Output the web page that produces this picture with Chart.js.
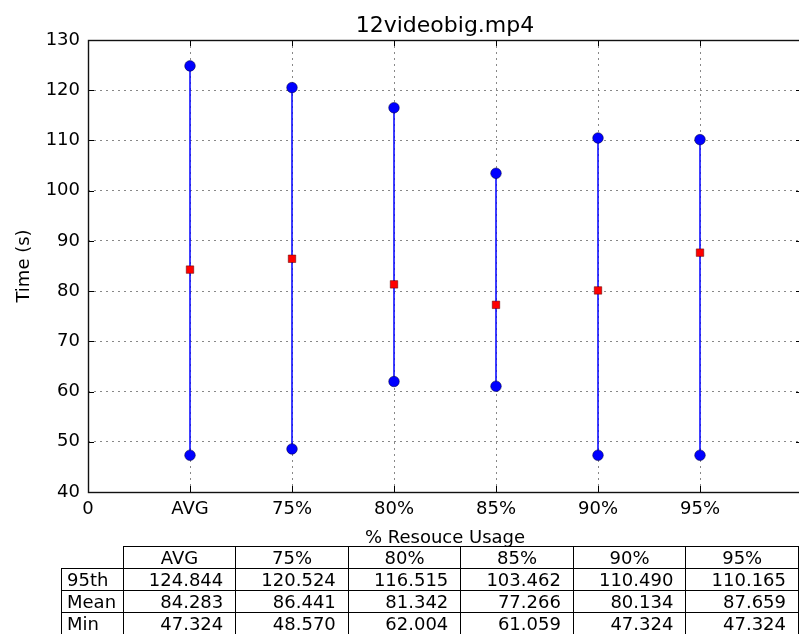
<!DOCTYPE html>
<html>
<head>
<meta charset="utf-8">
<script src="https://cdn.jsdelivr.net/npm/chart.js@4/dist/chart.umd.min.js"></script>
<style>
body { margin:0; overflow:hidden; background:#fff; }
#wrap { position:relative; width:799px; height:634px; overflow:hidden; }
canvas { position:absolute; left:0; top:0; }
#tbl { position:absolute; left:61px; top:546px; border-collapse:collapse; table-layout:fixed;
       font-family:"DejaVu Sans"; font-size:18px; color:#000; }
#tbl td { border:1px solid #000; padding:0; height:21px; line-height:21px; white-space:nowrap; overflow:hidden; }
#tbl td.blank { border:none; }
#tbl td.head { text-align:center; }
#tbl td.name { text-align:left; padding-left:5px; }
#tbl td.num { text-align:right; padding-right:12px; }
</style>
</head>
<body>
<div id="wrap">
  <canvas id="timeChart" width="809" height="634"></canvas>
  <table id="tbl"></table>
</div>
<script>
var categories = ["AVG", "75%", "80%", "85%", "90%", "95%"];
var p95 = [124.844, 120.524, 116.515, 103.462, 110.490, 110.165];
var mean = [84.283, 86.441, 81.342, 77.266, 80.134, 87.659];
var mins = [47.324, 48.570, 62.004, 61.059, 47.324, 47.324];
var rowNames = ["95th", "Mean", "Min"];

// points: min -> 95th per category, null to break the line
var rangePts = [];
var meanPts = [];
categories.forEach(function(c, i) {
  rangePts.push({x: i + 1, y: mins[i]}, {x: i + 1, y: p95[i]}, {x: i + 1, y: null});
  meanPts.push({x: i + 1, y: mean[i]});
});

var frame = {
  id: 'frame',
  afterDraw: function(chart) {
    var ctx = chart.ctx, a = chart.chartArea;
    var xs = chart.scales.x, ys = chart.scales.y;
    ctx.save();
    ctx.strokeStyle = '#000';
    ctx.lineWidth = 1;
    ctx.beginPath();
    ys.ticks.forEach(function(t) {
      var y = Math.round(ys.getPixelForValue(t.value)) + 0.5;
      ctx.moveTo(a.left, y); ctx.lineTo(a.left + 6, y);
      ctx.moveTo(a.right, y); ctx.lineTo(a.right - 6, y);
    });
    xs.ticks.forEach(function(t) {
      var x = Math.round(xs.getPixelForValue(t.value)) + 0.5;
      ctx.moveTo(x, a.bottom); ctx.lineTo(x, a.bottom - 6);
      ctx.moveTo(x, a.top); ctx.lineTo(x, a.top + 6);
    });
    ctx.stroke();
    ctx.lineWidth = 1.4;
    ctx.strokeStyle = '#111';
    ctx.strokeRect(a.left + 0.5, a.top + 0.5, a.right - a.left, a.bottom - a.top);
    ctx.fillStyle = '#000';
    ctx.font = '22px "DejaVu Sans"';
    ctx.textAlign = 'center';
    ctx.textBaseline = 'alphabetic';
    ctx.fillText('12videobig.mp4', (a.left + a.right) / 2, 32);
    ctx.restore();
  }
};

new Chart(document.getElementById('timeChart'), {
  type: 'scatter',
  data: {
    datasets: [{
      label: 'Mean',
      data: meanPts,
      pointStyle: 'rect',
      pointRadius: 5.3,
      pointBackgroundColor: '#ff0000',
      pointBorderColor: '#550000',
      pointBorderWidth: 0.5,
      showLine: false
    }, {
      label: 'Range',
      data: rangePts,
      showLine: true,
      spanGaps: false,
      borderColor: '#0000ff',
      borderWidth: 1.5,
      pointRadius: 5.3,
      pointBackgroundColor: '#0000ff',
      pointBorderColor: '#000033',
      pointBorderWidth: 0.5
    }]
  },
  options: {
    responsive: false,
    animation: false,
    layout: { padding: { top: 40, right: 0, left: 0, bottom: 0 } },
    plugins: { legend: { display: false }, tooltip: { enabled: false } },
    scales: {
      x: {
        type: 'linear',
        min: 0,
        max: 7,
        afterFit: function(s) { s.height = 142; },
        ticks: {
          stepSize: 1,
          padding: 7,
          color: '#000',
          font: { family: 'DejaVu Sans', size: 18 },
          callback: function(v) {
            if (v === 0) return '0';
            return categories[v - 1] || '';
          }
        },
        grid: { color: '#888', lineWidth: 1, drawTicks: false },
        border: { display: false, dash: [2, 4] },
        title: {
          display: true,
          text: '% Resouce Usage',
          color: '#000',
          font: { family: 'DejaVu Sans', size: 18 },
          padding: { top: 0, bottom: 85 }
        }
      },
      y: {
        min: 40,
        max: 130,
        afterFit: function(s) { s.width = 88; },
        ticks: {
          stepSize: 10,
          padding: 8,
          color: '#000',
          font: { family: 'DejaVu Sans', size: 18 }
        },
        grid: { color: '#888', lineWidth: 1, drawTicks: false },
        border: { display: false, dash: [2, 4] },
        title: {
          display: true,
          text: 'Time (s)',
          color: '#000',
          font: { family: 'DejaVu Sans', size: 18 },
          padding: { top: 14, bottom: 0 }
        }
      }
    }
  },
  plugins: [frame]
});

// table under the chart
var tbl = document.getElementById('tbl');
var cg = '<colgroup><col style="width:62px">';
categories.forEach(function() { cg += '<col style="width:113.5px">'; });
cg += '</colgroup>';
var html = cg + '<tr><td class="blank"></td>';
categories.forEach(function(c) { html += '<td class="head">' + c + '</td>'; });
html += '</tr>';
[p95, mean, mins].forEach(function(row, r) {
  html += '<tr><td class="name">' + rowNames[r] + '</td>';
  row.forEach(function(v) { html += '<td class="num">' + v.toFixed(3) + '</td>'; });
  html += '</tr>';
});
tbl.innerHTML = html;
</script>
</body>
</html>
